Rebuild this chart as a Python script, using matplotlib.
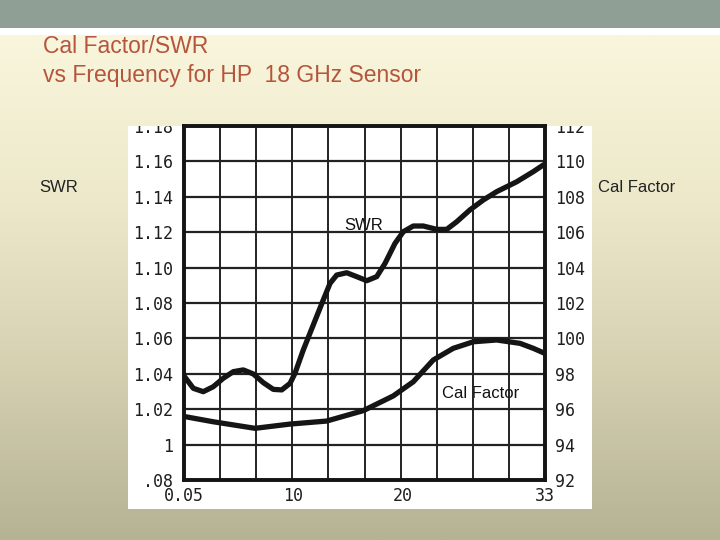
import numpy as np
import matplotlib
matplotlib.use('Agg')
import matplotlib.pyplot as plt
from matplotlib.patches import Rectangle
from matplotlib.colors import LinearSegmentedColormap

# SWR curve (left axis)
swr_freq = [0.05, 0.90, 1.81, 2.72, 3.64, 4.55, 5.46, 6.38, 7.29, 8.20, 8.97, 9.73,
            10.18, 10.94, 11.85, 12.76, 13.38, 13.99, 14.90, 15.81, 16.73, 17.64,
            18.40, 19.31, 20.07, 20.98, 21.89, 23.12, 24.03, 24.94, 26.15, 27.37,
            28.59, 30.42, 31.93, 32.85, 33.0]
swr = [1.0388, 1.0318, 1.0299, 1.0327, 1.0375, 1.0412, 1.0422, 1.0399, 1.0350, 1.0312,
       1.0309, 1.0346, 1.0403, 1.0535, 1.0676, 1.0817, 1.0911, 1.0958, 1.0971, 1.0949,
       1.0926, 1.0949, 1.1024, 1.1137, 1.1203, 1.1235, 1.1235, 1.1216, 1.1216, 1.1259,
       1.1326, 1.1382, 1.1429, 1.1485, 1.1542, 1.1580, 1.1585]

# Cal factor curve (right axis, %)
cal_freq = [0.05, 2.72, 6.53, 9.73, 13.07, 16.42, 19.15, 20.98, 22.80, 24.63, 26.46,
            28.59, 30.72, 31.93, 33.0]
cal = [95.59, 95.29, 94.92, 95.16, 95.33, 95.92, 96.75, 97.55, 98.78, 99.44, 99.81,
       99.91, 99.72, 99.44, 99.15]

x_ticks = [0.05, 10, 20, 33]
x_labels = ['0.05', '10', '20', '33']
swr_ticks = [0.98, 1.00, 1.02, 1.04, 1.06, 1.08, 1.10, 1.12, 1.14, 1.16, 1.18]
swr_labels = ['.08', '1', '1.02', '1.04', '1.06', '1.08', '1.10', '1.12', '1.14', '1.16', '1.18']
cal_ticks = [92, 94, 96, 98, 100, 102, 104, 106, 108, 110, 112]
cal_labels = [str(t) for t in cal_ticks]

W, H = 720, 540
fig = plt.figure(figsize=(7.2, 5.4), dpi=100)

def fx(px):
    return px / W

def fy(py):
    return 1 - py / H

# slide background
bg = fig.add_axes([0, 0, 1, 1])
bg.set_xlim(0, W)
bg.set_ylim(H, 0)
bg.axis('off')
cmap = LinearSegmentedColormap.from_list('slide', ['#faf6dd', '#ece8c9', '#d4d0b0', '#b5b394'])
grad = np.linspace(0, 1, 256).reshape(-1, 1)
bg.imshow(grad, cmap=cmap, extent=[0, W, H, 35], aspect='auto')
bg.add_patch(Rectangle((0, 0), W, 28, color='#909f96', lw=0))
bg.add_patch(Rectangle((0, 28), W, 7, color='white', lw=0))
bg.set_ylim(H, 0)
bg.add_patch(Rectangle((128, 126), 464, 383, color='white', lw=0))

bg.text(43, 53, 'Cal Factor/SWR', color='#b4553c', fontsize=16.5,
        family='Liberation Sans', va='baseline')
bg.text(43, 82, 'vs Frequency for HP  18 GHz Sensor', color='#b4553c', fontsize=16.5,
        family='Liberation Sans', va='baseline')
bg.text(59, 188, 'SWR', fontsize=12, family='Liberation Sans', color='#222222',
        ha='center', va='center')
bg.text(637, 188, 'Cal Factor', fontsize=12, family='Liberation Sans', color='#222222',
        ha='center', va='center')

# the scanned chart
ax = fig.add_axes([fx(184), fy(480), fx(545 - 184), (480 - 126) / H])
ax.set_facecolor('none')
ax.set_xlim(0.05, 33)
ax.set_ylim(0.98, 1.18)
for v in np.linspace(0.05, 33, 11)[1:-1]:
    ax.axvline(v, color='#222222', lw=1.4)
for v in swr_ticks[1:-1]:
    ax.axhline(v, color='#222222', lw=1.6)
ax.plot(swr_freq, swr, color='#151515', lw=3.8, solid_capstyle='butt',
        solid_joinstyle='round')

ax2 = ax.twinx()
ax2.set_ylim(92, 112)
ax2.plot(cal_freq, cal, color='#151515', lw=3.8, solid_capstyle='butt',
         solid_joinstyle='round')

tick_font = dict(family='DejaVu Sans Mono', fontsize=12, color='#1e1e1e')
ax.set_xticks(x_ticks)
ax.set_xticklabels(x_labels, **tick_font)
ax.set_yticks(swr_ticks)
ax.set_yticklabels(swr_labels, **tick_font)
ax2.set_yticks(cal_ticks)
ax2.set_yticklabels(cal_labels, **tick_font)
ax.tick_params(length=0, pad=5)
ax.tick_params(axis='y', pad=8)
ax2.tick_params(length=0, pad=7)
for a in (ax, ax2):
    for s in a.spines.values():
        s.set_linewidth(2.6)
        s.set_color('#151515')

# labels are clipped by the edge of the scanned picture
clip = Rectangle((fx(128), fy(509)), fx(464), 383 / H, transform=fig.transFigure,
                 facecolor='none', edgecolor='none')
fig.add_artist(clip)
for lbl in ax.get_yticklabels() + ax2.get_yticklabels():
    lbl.set_clip_on(True)
    lbl.set_clip_path(clip)

bg.text(364, 225, 'SWR', fontsize=12, family='Liberation Sans', color='#111111',
        ha='center', va='center', zorder=5)
bg.text(481, 394, 'Cal Factor', fontsize=12, family='Liberation Sans', color='#111111',
        ha='center', va='center', zorder=5)
bg.set_zorder(-1)

fig.savefig('out.png', dpi=100)
